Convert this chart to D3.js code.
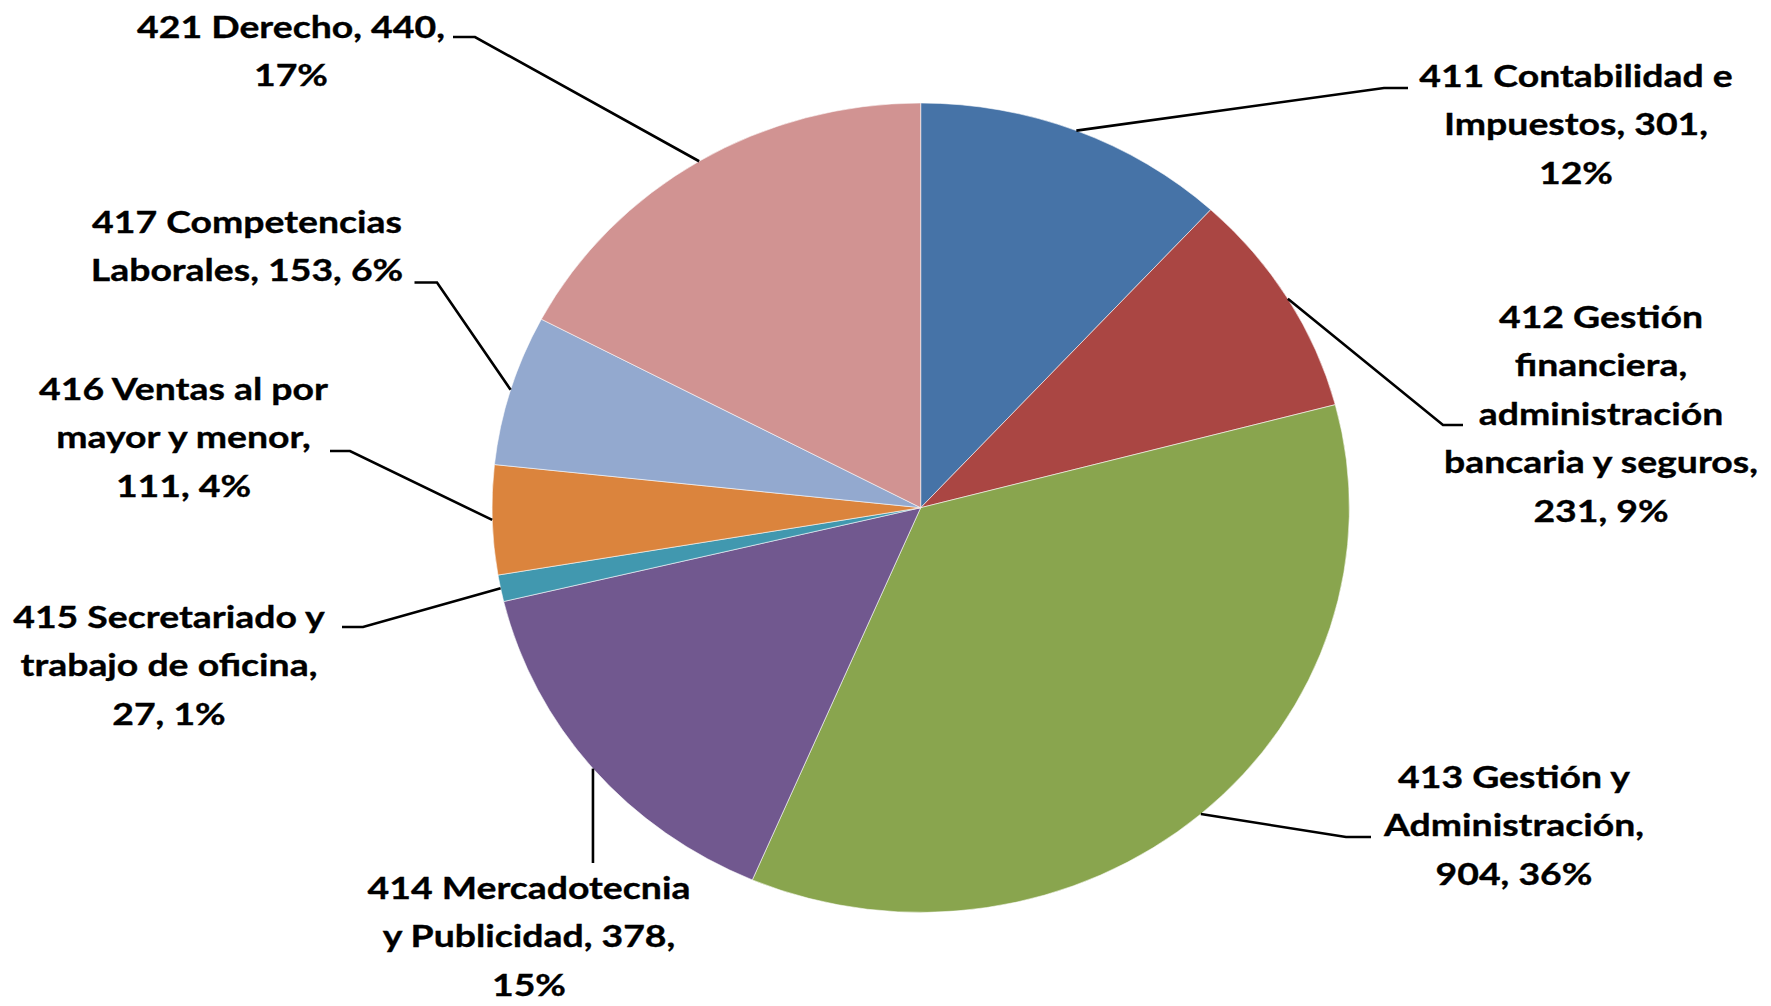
<!DOCTYPE html>
<html>
<head>
<meta charset="utf-8">
<script src="https://cdn.jsdelivr.net/npm/d3@7"></script>
<style>
  html, body { margin: 0; padding: 0; background: #ffffff; }
  svg { display: block; }
  .lbl { font-family: Lato, "Open Sans", sans-serif; font-weight: 700; fill: #000; stroke: #000; stroke-width: 0.35px; }
</style>
</head>
<body>
<svg id="chart" width="1771" height="1006"></svg>
<script>
// ---- data ----
const categories = [
  "411 Contabilidad e Impuestos",
  "412 Gestión financiera, administración bancaria y seguros",
  "413 Gestión y Administración",
  "414 Mercadotecnia y Publicidad",
  "415 Secretariado y trabajo de oficina",
  "416 Ventas al por mayor y menor",
  "417 Competencias Laborales",
  "421 Derecho"
];
const values = [301, 231, 904, 378, 27, 111, 153, 440];
const colors = ["#4673A7", "#AA4643", "#89A54E", "#71588F", "#4198AF", "#DB843D", "#93A9CF", "#D19392"];

// ---- layout (label placement, like Excel's manual/best-fit positions) ----
const wordsPerLine = [[3,2,1],[2,1,1,3,2],[3,1,2],[2,3,1],[3,3,2],[4,3,2],[2,3],[3,1]];
const labelAnchor = [[1576,87],[1601,328],[1514,788],[529,899],[169,628],[183.5,400],[247,233],[291,38]];
const leaderBend = [[1384,88,1408],[1443,425,1463],[1346,837,1371],[null,863,null],[363,627,342],[350,451,330],[437,282.5,414.5],[475,37,453]];

const W = 1771, H = 1006;
const cx = 920.7, cy = 507.7, rx = 428.7, ry = 404.7;
const lineH = 48.4;
const fontSize = 31;

const svg = d3.select("#chart");
const total = d3.sum(values);
const pctFmt = v => Math.round(v / total * 100) + "%";

const pie = d3.pie().sort(null).value(d => d)(values);
const arc = d3.arc().innerRadius(0).outerRadius(ry);

const gPie = svg.append("g").attr("transform", `translate(${cx},${cy}) scale(${rx/ry},1)`);
gPie.selectAll("path").data(pie).join("path")
  .attr("d", arc)
  .attr("fill", (d,i) => colors[i])
  .attr("stroke", "#ffffff")
  .attr("stroke-width", 0.8)
  .attr("stroke-opacity", 0.7)
  .attr("vector-effect", "non-scaling-stroke");

// leader lines
const edgePt = d => {
  const a = (d.startAngle + d.endAngle) / 2;
  return [cx + rx * Math.sin(a), cy - ry * Math.cos(a)];
};
const gLead = svg.append("g");
pie.forEach((d, i) => {
  const [px, py] = edgePt(d);
  const [bx, by, hx] = leaderBend[i];
  const pts = [[px, py], [bx === null ? px : bx, by]];
  if (hx !== null) pts.push([hx, by]);
  gLead.append("path")
    .attr("d", d3.line()(pts))
    .attr("fill", "none")
    .attr("stroke", "#000")
    .attr("stroke-width", 2.6);
});

// labels
const labelTexts = values.map((v, i) => {
  const words = `${categories[i]}, ${v}, ${pctFmt(v)}`.split(" ");
  const lines = [];
  let k = 0;
  wordsPerLine[i].forEach(n => { lines.push(words.slice(k, k + n).join(" ")); k += n; });
  return lines;
});

// horizontal stretch so text width matches the reference's wide rendering
const probe = svg.append("text").attr("class", "lbl").attr("font-size", fontSize).text(labelTexts[7][0]);
const probeW = probe.node().getComputedTextLength();
probe.remove();
const sx = 308 / probeW;

const gLab = svg.append("g");
labelTexts.forEach((lines, i) => {
  const [lx, ly] = labelAnchor[i];
  const t = gLab.append("g")
    .attr("transform", `translate(${lx},${ly}) scale(${sx},1)`)
    .append("text")
    .attr("class", "lbl")
    .attr("font-size", fontSize)
    .attr("text-anchor", "middle");
  lines.forEach((ln, j) => {
    t.append("tspan").attr("x", 0).attr("y", j * lineH).text(ln);
  });
});
</script>
</body>
</html>
